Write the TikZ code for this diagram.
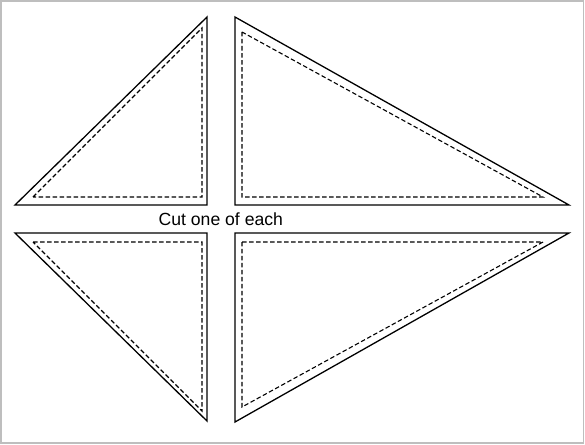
\documentclass[tikz,border=0pt]{standalone}
\usepackage{fontspec}
\setmainfont{Liberation Sans}
\begin{document}
\begin{tikzpicture}[x=1pt,y=-1pt,
  cutline/.style={draw=black,line width=1.3pt,line join=miter},
  seamline/.style={draw=black,line width=1.1pt,dash pattern=on 4.5pt off 2.5pt},
  framebox/.style={draw={rgb,255:red,190;green,190;blue,190},line width=1.5pt}]
\useasboundingbox (0,0) rectangle (585,444);
\draw[framebox] (1,1) rectangle (583.5,443);
% top left
\draw[cutline] (15,205) -- (207,17) -- (207,205) -- cycle;
\draw[seamline] (33,197) -- (202,28) -- (202,197) -- cycle;
% top right
\draw[cutline] (235,17) -- (235,205) -- (569,205) -- cycle;
\draw[seamline] (242,32) -- (242,197) -- (543,197) -- cycle;
% bottom left
\draw[cutline] (15,233) -- (207,233) -- (207,421) -- cycle;
\draw[seamline] (33,242) -- (202,242) -- (202,411) -- cycle;
% bottom right
\draw[cutline] (235,233) -- (569,233) -- (235,422) -- cycle;
\draw[seamline] (242,242) -- (543,242) -- (242,407) -- cycle;
\node[font=\fontsize{17.6}{21}\selectfont,anchor=base west,inner sep=0pt] (label) at (158.5,225) {Cut one of each};
\end{tikzpicture}
\end{document}
